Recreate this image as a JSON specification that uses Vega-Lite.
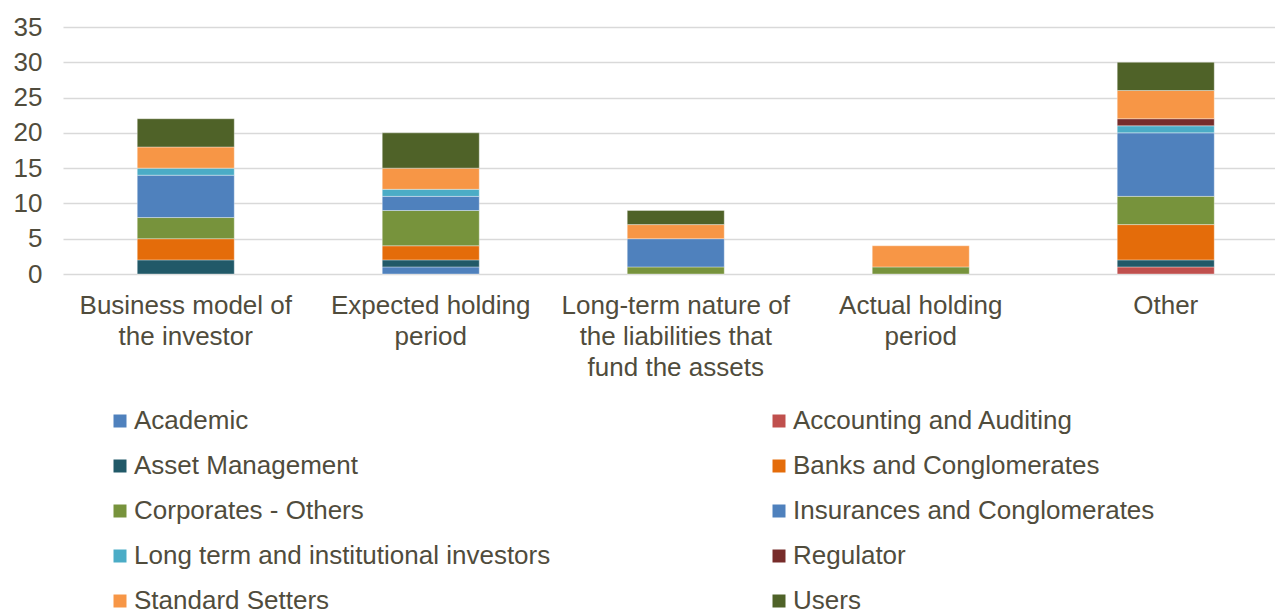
{
  "$schema": "https://vega.github.io/schema/vega-lite/v6.json",
  "autosize": "none",
  "width": 1212,
  "height": 247,
  "padding": {"left": 63, "top": 27, "right": 0, "bottom": 336},
  "background": "white",
  "config": {
    "view": {"stroke": null},
    "font": "Liberation Sans"
  },
  "data": {
    "values": [
      {"category": "Business model of|the investor", "group": "Asset Management", "value": 2},
      {"category": "Business model of|the investor", "group": "Banks and Conglomerates", "value": 3},
      {"category": "Business model of|the investor", "group": "Corporates - Others", "value": 3},
      {"category": "Business model of|the investor", "group": "Insurances and Conglomerates", "value": 6},
      {"category": "Business model of|the investor", "group": "Long term and institutional investors", "value": 1},
      {"category": "Business model of|the investor", "group": "Standard Setters", "value": 3},
      {"category": "Business model of|the investor", "group": "Users", "value": 4},
      {"category": "Expected holding|period", "group": "Academic", "value": 1},
      {"category": "Expected holding|period", "group": "Asset Management", "value": 1},
      {"category": "Expected holding|period", "group": "Banks and Conglomerates", "value": 2},
      {"category": "Expected holding|period", "group": "Corporates - Others", "value": 5},
      {"category": "Expected holding|period", "group": "Insurances and Conglomerates", "value": 2},
      {"category": "Expected holding|period", "group": "Long term and institutional investors", "value": 1},
      {"category": "Expected holding|period", "group": "Standard Setters", "value": 3},
      {"category": "Expected holding|period", "group": "Users", "value": 5},
      {"category": "Long-term nature of|the liabilities that|fund the assets", "group": "Corporates - Others", "value": 1},
      {"category": "Long-term nature of|the liabilities that|fund the assets", "group": "Insurances and Conglomerates", "value": 4},
      {"category": "Long-term nature of|the liabilities that|fund the assets", "group": "Standard Setters", "value": 2},
      {"category": "Long-term nature of|the liabilities that|fund the assets", "group": "Users", "value": 2},
      {"category": "Actual holding|period", "group": "Corporates - Others", "value": 1},
      {"category": "Actual holding|period", "group": "Standard Setters", "value": 3},
      {"category": "Other", "group": "Accounting and Auditing", "value": 1},
      {"category": "Other", "group": "Asset Management", "value": 1},
      {"category": "Other", "group": "Banks and Conglomerates", "value": 5},
      {"category": "Other", "group": "Corporates - Others", "value": 4},
      {"category": "Other", "group": "Insurances and Conglomerates", "value": 9},
      {"category": "Other", "group": "Long term and institutional investors", "value": 1},
      {"category": "Other", "group": "Regulator", "value": 1},
      {"category": "Other", "group": "Standard Setters", "value": 4},
      {"category": "Other", "group": "Users", "value": 4}
    ]
  },
  "transform": [
    {"calculate": "indexof(['Academic','Accounting and Auditing','Asset Management','Banks and Conglomerates','Corporates - Others','Insurances and Conglomerates','Long term and institutional investors','Regulator','Standard Setters','Users'], datum.group)", "as": "ord"}
  ],
  "mark": {"type": "bar", "stroke": "#ffffff", "strokeWidth": 0.6, "strokeOpacity": 0.6},
  "encoding": {
    "x": {
      "field": "category",
      "type": "nominal",
      "sort": null,
      "scale": {"paddingInner": 0.604, "paddingOuter": 0.2755, "align": 0.55},
      "axis": {
        "title": null,
        "labelAngle": 0,
        "labelExpr": "split(datum.label, '|')",
        "labelFontSize": 26,
        "labelLineHeight": 31,
        "labelColor": "#504C3C",
        "labelPadding": 18,
        "ticks": false,
        "domain": false,
        "labelLimit": 300
      }
    },
    "y": {
      "field": "value",
      "type": "quantitative",
      "aggregate": "sum",
      "stack": "zero",
      "scale": {"domain": [0, 35]},
      "axis": {
        "title": null,
        "values": [0, 5, 10, 15, 20, 25, 30, 35],
        "labelFontSize": 26,
        "labelColor": "#504C3C",
        "labelPadding": 21,
        "ticks": false,
        "domain": false,
        "gridColor": "#D9D9D9",
        "gridWidth": 1.5
      }
    },
    "order": {"field": "ord", "type": "quantitative", "sort": "ascending"},
    "color": {
      "field": "group",
      "type": "nominal",
      "scale": {
        "domain": ["Academic", "Accounting and Auditing", "Asset Management", "Banks and Conglomerates", "Corporates - Others", "Insurances and Conglomerates", "Long term and institutional investors", "Regulator", "Standard Setters", "Users"],
        "range": ["#4F81BD", "#C0504D", "#215968", "#E46C0A", "#77933C", "#4F81BD", "#4BACC6", "#772C2A", "#F79646", "#4F6228"]
      },
      "legend": {
        "title": null,
        "orient": "none",
        "direction": "horizontal",
        "legendX": 44,
        "legendY": 381,
        "columns": 2,
        "columnPadding": 215,
        "rowPadding": 19,
        "symbolType": "square",
        "symbolSize": 169,
        "symbolStrokeWidth": 0,
        "labelFontSize": 26,
        "labelColor": "#504C3C",
        "labelOffset": 1,
        "labelLimit": 700
      }
    }
  }
}
